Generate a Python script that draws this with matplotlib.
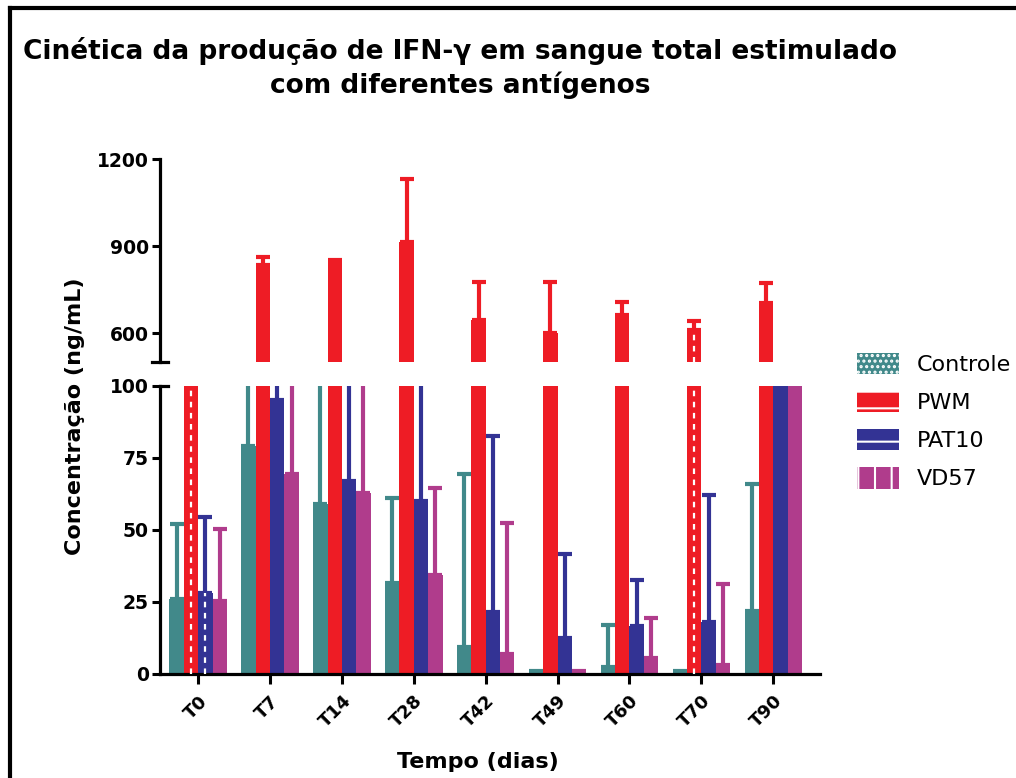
import matplotlib
matplotlib.use("Agg")
import matplotlib.pyplot as plt
import numpy as np
from matplotlib.patches import Patch
from matplotlib.lines import Line2D

plt.rcParams["font.family"] = ["DejaVu Sans"]
plt.rcParams["hatch.color"] = "white"
plt.rcParams["hatch.linewidth"] = 1.5

days = ["T0", "T7", "T14", "T28", "T42", "T49", "T60", "T70", "T90"]
series_names = ["Controle", "PWM", "PAT10", "VD57"]
controle = [26, 79, 59, 31.5, 9.5, 0.4, 2.5, 0.4, 22]
controle_err = [26, 60, 70, 29.5, 60, 0.5, 14.5, 0.5, 44]
pwm = [300, 835, 838, 915, 645, 601, 662, 610, 702]
pwm_err = [40, 28, 15, 216, 130, 176, 46, 31, 69]
pat10 = [28, 95, 67, 60, 21.5, 12.5, 16.5, 18, 190]
pat10_err = [26.5, 40, 60, 70, 61, 29, 16, 44, 40]
vd57 = [25.5, 69.5, 63, 34.5, 7, 0.5, 5.5, 3.2, 170]
vd57_err = [25, 60, 70, 30, 45.5, 0.5, 14, 28, 30]
# bars that carry a white dashed centre line: (day index, series index)
dashed_bars = [(0, 1), (0, 2), (7, 1)]

colors = ["#41898a", "#ee1c25", "#333394", "#b03c8c"]
hatches = ["...", "-", "-", "|"]
values = [controle, pwm, pat10, vd57]
errors = [controle_err, pwm_err, pat10_err, vd57_err]

fig = plt.figure(figsize=(10.16, 7.78), dpi=100)
ax_top = fig.add_axes([0.1575, 0.5347, 0.6496, 0.2609])
ax_low = fig.add_axes([0.1575, 0.1337, 0.6496, 0.3702])

x = np.arange(len(days))
width = 0.2
offsets = [-0.3, -0.1, 0.1, 0.3]

for ax in (ax_top, ax_low):
    for vals, errs, c, off in zip(values, errors, colors, offsets):
        ax.bar(x + off, vals, width, color=c, edgecolor="none", zorder=2)
        ax.errorbar(x + off, vals, yerr=[np.zeros(len(errs)), errs], fmt="none",
                    ecolor=c, elinewidth=3, capsize=5, capthick=3, zorder=1)
    for i, s in dashed_bars:
        ax.vlines(x[i] + offsets[s], 0, values[s][i], colors="white",
                  linestyles=(0, (2.5, 2.5)), linewidth=1.6, zorder=3)
    ax.set_xlim(-0.53, 8.65)
    for side in ("top", "right"):
        ax.spines[side].set_visible(False)
    ax.spines["left"].set_linewidth(2.3)
    ax.tick_params(axis="y", length=6, width=2.2, labelsize=13.5, pad=2)

ax_top.set_ylim(500, 1200)
ax_top.set_yticks([600, 900, 1200])
ax_top.spines["bottom"].set_visible(False)
ax_top.set_xticks([])
ax_top.plot([-0.012, 0.012], [500, 500], color="black", lw=2.3,
            transform=ax_top.get_yaxis_transform(), clip_on=False)
for lab in ax_top.get_yticklabels():
    lab.set_fontweight("bold")

ax_low.set_ylim(0, 100)
ax_low.set_yticks([0, 25, 50, 75, 100])
ax_low.spines["bottom"].set_linewidth(2.3)
ax_low.set_xticks(x)
ax_low.set_xticklabels(days, rotation=45, ha="right", rotation_mode="anchor",
                       fontsize=13, fontweight="bold")
ax_low.tick_params(axis="x", length=7, width=2.2, pad=6)
ax_low.plot([0, 0.012], [100, 100], color="black", lw=2.3,
            transform=ax_low.get_yaxis_transform(), clip_on=False)
for lab in ax_low.get_yticklabels():
    lab.set_fontweight("bold")

ax_low.set_xlabel("Tempo (dias)", fontsize=16, fontweight="bold")
ax_low.xaxis.set_label_coords((478 - 160) / 660, -0.27)

fig.text(75 / 1016, 1 - 416 / 778, "Concentração (ng/mL)", rotation=90,
         ha="center", va="center", fontsize=16, fontweight="bold")
fig.text(460 / 1016, 1 - 68 / 778,
         "Cinética da produção de IFN-γ em sangue total estimulado\ncom diferentes antígenos",
         ha="center", va="center", fontsize=19, fontweight="bold", linespacing=1.3)

handles = [Patch(facecolor=c, edgecolor="white", hatch=h, linewidth=0)
           for c, h in zip(colors, hatches)]
fig.legend(handles, series_names, loc="center left", bbox_to_anchor=(848 / 1016, 1 - 421 / 778),
           frameon=False, fontsize=16, handlelength=1.9, handleheight=1.1,
           handletextpad=0.8, labelspacing=0.72, borderaxespad=0)

# frame lines on the left and top edges
fig.add_artist(Line2D([10 / 1016, 10 / 1016], [0, 1 - 8 / 778], color="black", lw=3))
fig.add_artist(Line2D([10 / 1016, 1], [1 - 8 / 778, 1 - 8 / 778], color="black", lw=3))

fig.savefig("out.png", dpi=100)
